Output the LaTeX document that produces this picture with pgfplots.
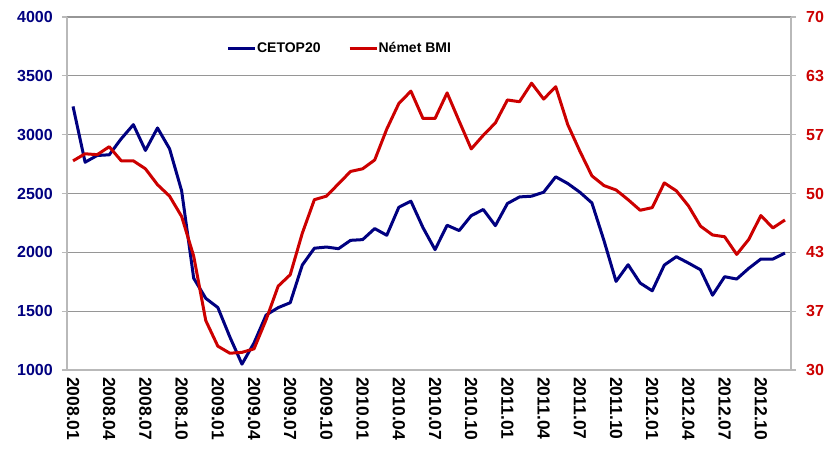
\documentclass[border=0pt]{standalone}
\usepackage{fontspec}
\setmainfont{Liberation Sans}
\usepackage{pgfplots}
\usepackage{pgfplotstable}
\pgfplotsset{compat=1.18}
\definecolor{cetop}{RGB}{0,0,128}
\definecolor{bmi}{RGB}{204,0,0}
\definecolor{gridc}{RGB}{150,150,150}
\definecolor{axc}{RGB}{185,185,185}

\pgfplotstableread{
i cetop bmi
0 3240 53.7
1 2766 54.5
2 2823 54.4
3 2829 55.3
4 2966 53.7
5 3085 53.7
6 2866 52.8
7 3057 51.0
8 2880 49.7
9 2523 47.4
10 1780 42.9
11 1609 35.6
12 1531 32.7
13 1280 31.9
14 1050 32.0
15 1230 32.4
16 1467 35.7
17 1530 39.5
18 1572 40.8
19 1892 45.5
20 2035 49.3
21 2045 49.7
22 2031 51.1
23 2102 52.5
24 2108 52.8
25 2202 53.8
26 2145 57.3
27 2383 60.2
28 2435 61.6
29 2210 58.5
30 2023 58.5
31 2230 61.4
32 2185 58.2
33 2312 55.05
34 2364 56.6
35 2227 58.0
36 2415 60.6
37 2471 60.4
38 2477 62.5
39 2511 60.7
40 2642 62.1
41 2585 57.8
42 2511 54.8
43 2420 52.0
44 2100 50.9
45 1753 50.4
46 1895 49.3
47 1739 48.1
48 1673 48.4
49 1892 51.2
50 1963 50.3
51 1909 48.6
52 1852 46.3
53 1636 45.3
54 1793 45.1
55 1773 43.1
56 1864 44.8
57 1943 47.5
58 1943 46.1
59 1994 47.0
}\datatable

\begin{document}
\begin{tikzpicture}[x=1pt,y=1pt]
\path[use as bounding box] (0,0) rectangle (827,448);
\begin{axis}[
  at={(67pt,78pt)}, anchor=south west,
  scale only axis, width=724pt, height=353pt,
  xmin=-0.5, xmax=59.5, ymin=1000, ymax=4000,
  axis lines*=left,
  axis line style={axc, line width=1.6pt},
  ytick={1000,1500,2000,2500,3000,3500,4000},
  yticklabels={1000,1500,2000,2500,3000,3500,4000},
  ymajorgrids, grid style={gridc, line width=1.1pt},
  tick align=outside,
  major tick length=5pt,
  tick style={axc, line width=1.2pt},
  xtick={0,3,...,57},
  xticklabels={2008.01,2008.04,2008.07,2008.10,2009.01,2009.04,2009.07,2009.10,2010.01,2010.04,2010.07,2010.10,2011.01,2011.04,2011.07,2011.10,2012.01,2012.04,2012.07,2012.10},
  x tick style={draw=none},
  extra x ticks={-0.5,2.5,...,59.5},
  extra x tick labels={},
  extra x tick style={tick style={axc, line width=1.2pt}, major tick length=5pt},
  xticklabel style={rotate=-90, anchor=west, font=\bfseries\fontsize{17.5}{18}\selectfont, inner xsep=2pt, inner ysep=0pt},
  yticklabel style={font=\bfseries\fontsize{16}{18}\selectfont, text=cetop, inner sep=0pt, xshift=-9pt},
  legend style={at={(0.216,0.912)}, anchor=west, draw=none, fill=none, font=\bfseries\fontsize{14}{16}\selectfont,
    nodes={inner sep=0.5pt}, /tikz/every even column/.append style={column sep=27pt}},
  legend columns=2,
  legend image code/.code={\draw[#1] (0pt,0pt) -- (27pt,0pt);},
]
\addplot[cetop, line width=3pt, line join=round] table[x=i, y=cetop] {\datatable};
\addlegendentry{CETOP20}
\addlegendimage{bmi, line width=3pt}
\addlegendentry{Német BMI}
\end{axis}
\begin{axis}[
  at={(67pt,78pt)}, anchor=south west,
  scale only axis, width=724pt, height=353pt,
  xmin=-0.5, xmax=59.5, ymin=30, ymax=70,
  axis x line=none,
  axis y line*=right,
  axis line style={axc, line width=1.6pt},
  ytick={30,36.6667,43.3333,50,56.6667,63.3333,70},
  yticklabels={30,37,43,50,57,63,70},
  tick align=outside,
  major tick length=5pt,
  tick style={axc, line width=1.2pt},
  yticklabel style={font=\bfseries\fontsize{16}{18}\selectfont, text=bmi, inner sep=0pt, xshift=10pt},
]
\addplot[bmi, line width=3pt, line join=round] table[x=i, y=bmi] {\datatable};
\end{axis}
\end{tikzpicture}
\end{document}
